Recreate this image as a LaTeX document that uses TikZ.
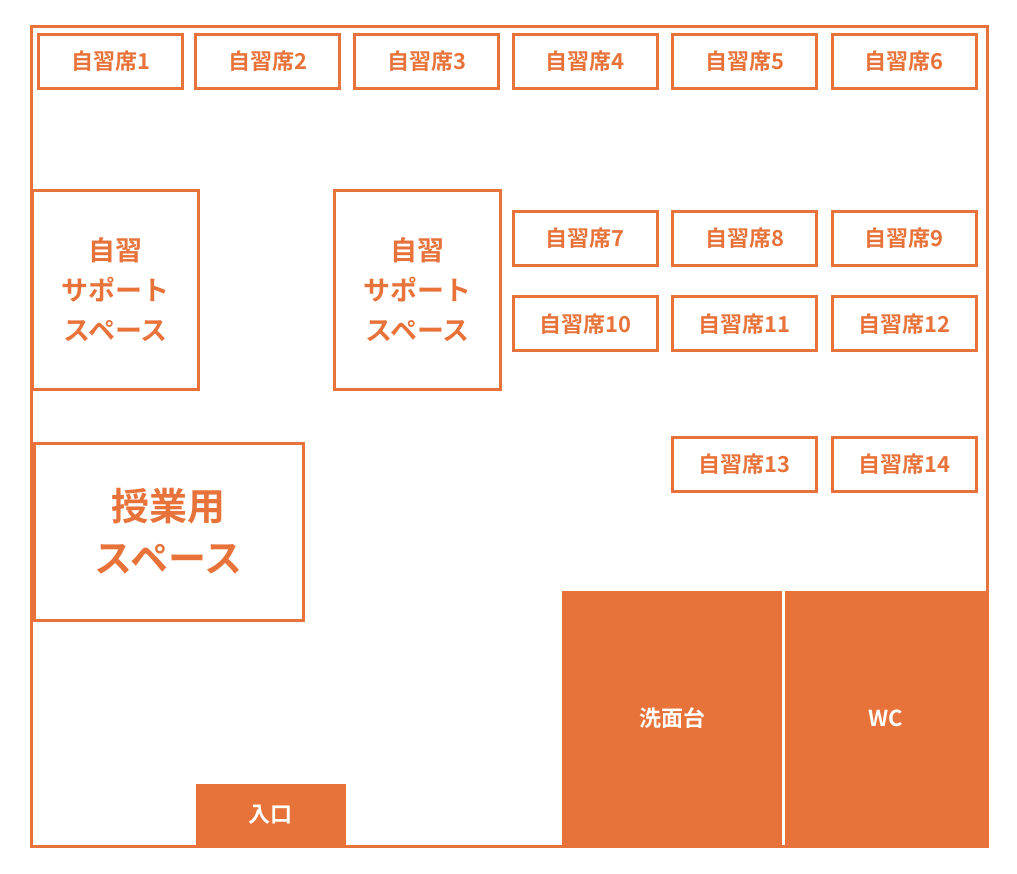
\documentclass[tikz,border=0pt]{standalone}
\usepackage{fontspec}
\newfontfamily\jp{Noto Sans CJK JP}[BoldFont={* Bold}]
\usetikzlibrary{positioning}
\definecolor{plan}{HTML}{E8733A}
\begin{document}
\begin{tikzpicture}[x=1pt,y=-1pt,
		seat/.style = {rectangle, draw=plan, line width=3pt, text=plan, font=\jp\bfseries\fontsize{22}{24}\selectfont, minimum width=144pt, minimum height=54pt, inner sep=0pt},
		space/.style = {rectangle, draw=plan, line width=3pt, text=plan, font=\jp\bfseries\fontsize{27}{40}\selectfont, align=center, inner sep=0pt},
		room/.style = {rectangle, fill=plan, text=white, font=\jp\bfseries\fontsize{22}{24}\selectfont, inner sep=0pt},
	]
	\useasboundingbox (0,0) rectangle (1017,874);
	% floor
	\draw[plan, line width=3pt] (31,27) rectangle (987,846);
	% seats
	\foreach \n/\x in {1/110.5, 2/267.5, 3/426.5, 4/585, 5/744.5, 6/904}
		\node[seat] (seat\n) at (\x,61.5) {自習席\n};
	\foreach \n/\x in {7/585, 8/744.5, 9/904}
		\node[seat] (seat\n) at (\x,238.5) {自習席\n};
	\foreach \n/\x in {10/585, 11/744.5, 12/904}
		\node[seat] (seat\n) at (\x,324) {自習席\n};
	\foreach \n/\x in {13/744.5, 14/904}
		\node[seat] (seat\n) at (\x,464.5) {自習席\n};
	% spaces
	\node[space, minimum width=166pt, minimum height=198pt] (support1) at (115.5,290) {自習\\サポート\\スペース};
	\node[space, minimum width=166pt, minimum height=198pt] (support2) at (417.5,290) {自習\\サポート\\スペース};
	\node[space, minimum width=269pt, minimum height=177pt, font=\jp\bfseries\fontsize{38}{52}\selectfont] (lesson) at (168.5,531.5) {授業用\\スペース};
	% rooms
	\node[room, minimum width=220pt, minimum height=256pt] (sink) at (672,718.5) {洗面台};
	\node[room, minimum width=203pt, minimum height=256pt] (wc) at (886,718.5) {WC};
	\node[room, minimum width=150pt, minimum height=62pt] (entrance) at (270.5,815) {入口};
\end{tikzpicture}
\end{document}
